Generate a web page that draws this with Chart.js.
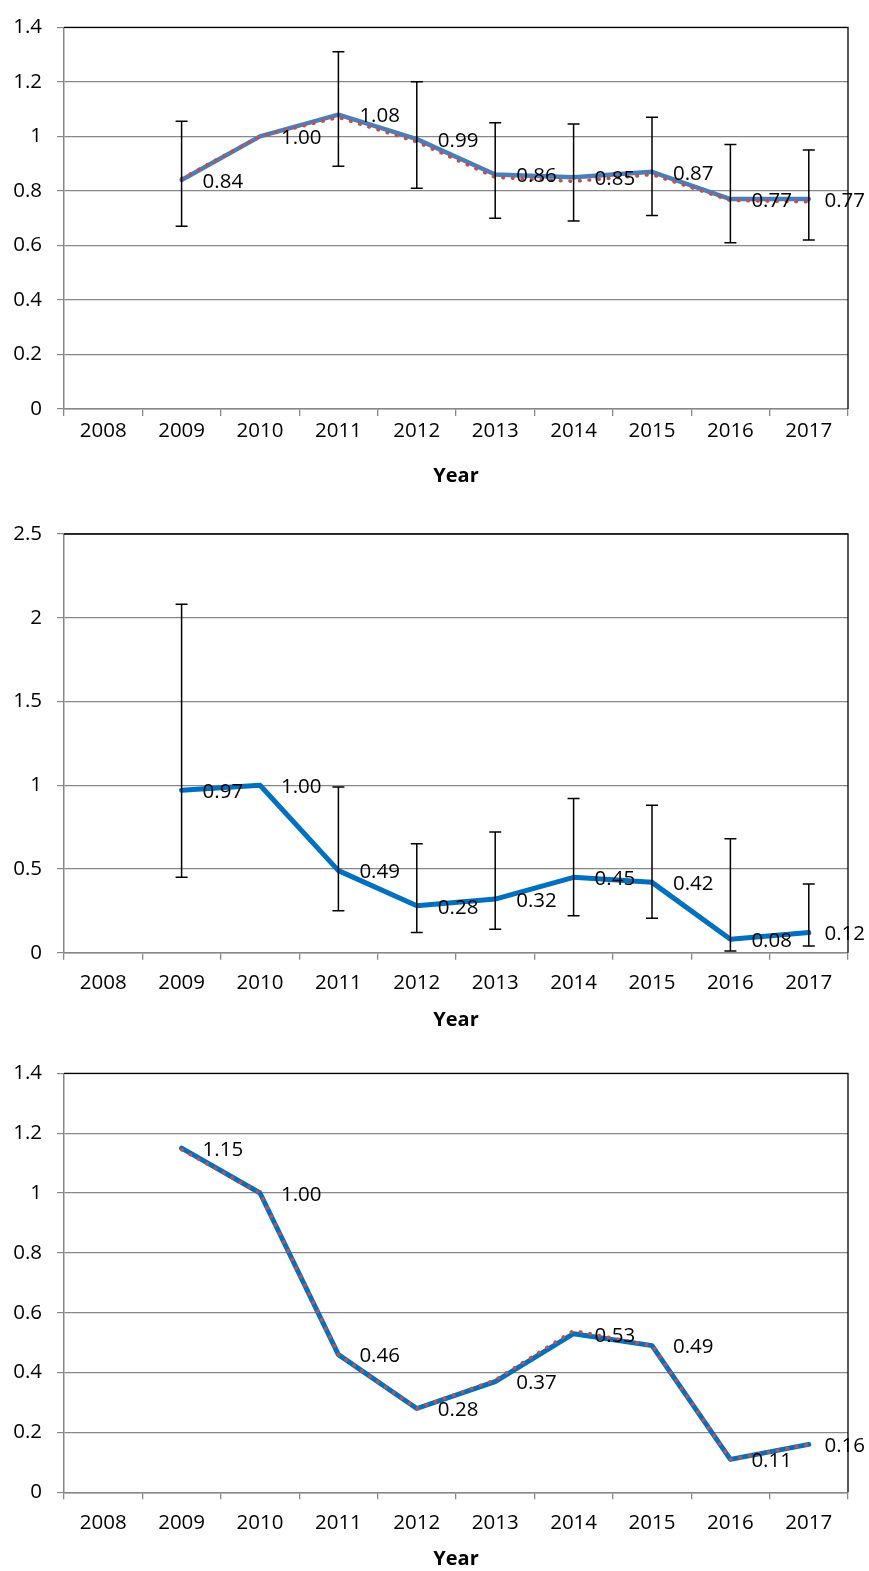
<!DOCTYPE html>
<html>
<head>
<meta charset="utf-8">
<script src="https://cdn.jsdelivr.net/npm/chart.js@4.4.1/dist/chart.umd.min.js"></script>
<style>
  html, body { margin: 0; padding: 0; background: #ffffff; }
  #wrap { position: relative; width: 869px; height: 1571px; overflow: hidden; }
  canvas { position: absolute; left: 0; }
</style>
</head>
<body>
<div id="wrap">
  <canvas id="panelA" width="869" height="500" style="top:0px"></canvas>
  <canvas id="panelB" width="869" height="535" style="top:500px"></canvas>
  <canvas id="panelC" width="869" height="536" style="top:1035px"></canvas>
</div>
<script>
// Categories shared by all three panels
const years = ['2008', '2009', '2010', '2011', '2012', '2013', '2014', '2015', '2016', '2017'];

// Panel A: ratio with fitted curve and confidence intervals
const ratioA = [null, 0.84, 1.00, 1.08, 0.99, 0.86, 0.85, 0.87, 0.77, 0.77];
const fitA   = [null, 0.845, 1.00, 1.07, 0.98, 0.85, 0.835, 0.86, 0.765, 0.76];
const lowA   = [null, 0.67, null, 0.89, 0.81, 0.70, 0.69, 0.71, 0.61, 0.62];
const highA  = [null, 1.055, null, 1.31, 1.20, 1.05, 1.045, 1.07, 0.97, 0.95];
const yTicksA = [0, 0.2, 0.4, 0.6, 0.8, 1, 1.2, 1.4];

// Panel B: ratio with confidence intervals
const ratioB = [null, 0.97, 1.00, 0.49, 0.28, 0.32, 0.45, 0.42, 0.08, 0.12];
const lowB   = [null, 0.45, null, 0.25, 0.12, 0.14, 0.22, 0.205, 0.01, 0.04];
const highB  = [null, 2.08, null, 0.99, 0.65, 0.72, 0.92, 0.88, 0.68, 0.41];
const yTicksB = [0, 0.5, 1, 1.5, 2, 2.5];

// Panel C: ratio with fitted curve
const ratioC = [null, 1.15, 1.00, 0.46, 0.28, 0.37, 0.53, 0.49, 0.11, 0.16];
const fitC   = [null, 1.145, 1.00, 0.46, 0.28, 0.375, 0.54, 0.49, 0.11, 0.16];
const yTicksC = [0, 0.2, 0.4, 0.6, 0.8, 1, 1.2, 1.4];

const FONT = "'Open Sans', 'DejaVu Sans', sans-serif";
const FONT_SIZE = 20.5;
const AXIS_GREY = '#878787';

// Black frame on the top and right of the plot area
const framePlugin = {
  id: 'plotFrame',
  beforeDatasetsDraw(chart) {
    const { ctx, chartArea: a } = chart;
    ctx.save();
    ctx.strokeStyle = '#000000';
    ctx.lineWidth = 1.3;
    ctx.beginPath();
    ctx.moveTo(a.left, a.top);
    ctx.lineTo(a.right, a.top);
    ctx.lineTo(a.right, a.bottom);
    ctx.stroke();
    ctx.restore();
  }
};

// Vertical error bars with caps, positioned by the chart's scales
function errorBars(low, high) {
  return {
    id: 'errorBars',
    afterDatasetsDraw(chart) {
      if (!low) return;
      const idx = chart.data.datasets.findIndex(d => d.label === 'Ratio');
      const meta = chart.getDatasetMeta(idx);
      const ys = chart.scales.y;
      const ctx = chart.ctx;
      ctx.save();
      ctx.strokeStyle = '#000000';
      ctx.lineWidth = 1.5;
      meta.data.forEach((pt, i) => {
        if (low[i] == null || high[i] == null) return;
        const x = pt.x;
        const yHi = ys.getPixelForValue(high[i]);
        const yLo = ys.getPixelForValue(low[i]);
        ctx.beginPath();
        ctx.moveTo(x, yHi); ctx.lineTo(x, yLo);
        ctx.moveTo(x - 6, yHi); ctx.lineTo(x + 6, yHi);
        ctx.moveTo(x - 6, yLo); ctx.lineTo(x + 6, yLo);
        ctx.stroke();
      });
      ctx.restore();
    }
  };
}

// Value labels to the right of each ratio point
const valueLabels = {
  id: 'valueLabels',
  afterDatasetsDraw(chart) {
    const idx = chart.data.datasets.findIndex(d => d.label === 'Ratio');
    const ds = chart.data.datasets[idx];
    const meta = chart.getDatasetMeta(idx);
    const ctx = chart.ctx;
    ctx.save();
    ctx.font = FONT_SIZE + 'px ' + FONT;
    ctx.fillStyle = '#000000';
    ctx.textAlign = 'left';
    ctx.textBaseline = 'middle';
    meta.data.forEach((pt, i) => {
      const v = ds.data[i];
      if (v == null) return;
      const txt = v.toFixed(2);
      const w = ctx.measureText(txt).width;
      let x = pt.x + 21;
      if (x + w > chart.width - 4) x = chart.width - 4 - w;
      ctx.fillText(txt, x, pt.y + 2);
    });
    ctx.restore();
  }
};

function makeChart(id, opts) {
  const datasets = [];
  if (opts.fit) {
    datasets.push({
      label: 'Fit',
      data: opts.fit,
      borderColor: '#C0504D',
      borderWidth: 3.6,
      borderDash: [0.6, 9],
      borderCapStyle: 'round',
      borderJoinStyle: 'round',
      pointRadius: 0,
      tension: 0,
      fill: false,
      order: 0
    });
  }
  datasets.push({
    label: 'Ratio',
    data: opts.ratio,
    borderColor: opts.color,
    borderWidth: opts.lineWidth,
    borderCapStyle: 'round',
    borderJoinStyle: 'round',
    pointRadius: 0,
    tension: 0,
    fill: false,
    order: 1
  });

  const ticks = opts.yTicks;
  return new Chart(document.getElementById(id), {
    type: 'line',
    data: { labels: years, datasets },
    options: {
      responsive: false,
      animation: false,
      events: [],
      layout: { padding: { top: opts.padTop, right: 21, bottom: 0, left: 0 } },
      plugins: { legend: { display: false }, tooltip: { enabled: false }, title: { display: false } },
      scales: {
        x: {
          type: 'category',
          offset: true,
          grid: { display: true, drawOnChartArea: false, drawTicks: true, tickLength: 7, offset: true, color: AXIS_GREY, lineWidth: 1.3 },
          border: { display: true, color: AXIS_GREY, width: 1.5 },
          ticks: { color: '#000000', font: { family: FONT, size: FONT_SIZE }, padding: opts.tickPad, maxRotation: 0, autoSkip: false },
          title: { display: true, text: 'Year', color: '#000000', font: { family: FONT, size: 20, weight: 'bold' }, padding: { top: 0, bottom: opts.titlePad } },
          afterFit: s => { s.height = opts.xHeight; }
        },
        y: {
          min: ticks[0],
          max: ticks[ticks.length - 1],
          ticks: {
            stepSize: ticks[1] - ticks[0],
            color: '#000000',
            font: { family: FONT, size: FONT_SIZE },
            padding: 15,
            callback: v => String(+v.toFixed(2))
          },
          afterBuildTicks: s => { s.ticks = ticks.map(v => ({ value: v })); },
          grid: { color: AXIS_GREY, lineWidth: 1.2, tickLength: 7 },
          border: { display: true, color: AXIS_GREY, width: 1.5 },
          afterFit: s => { s.width = 64; }
        }
      }
    },
    plugins: [framePlugin, errorBars(opts.low, opts.high), valueLabels]
  });
}

makeChart('panelA', {
  ratio: ratioA, fit: fitA, low: lowA, high: highA, yTicks: yTicksA,
  color: '#4A7EBB', lineWidth: 4.5,
  padTop: 15, xHeight: 91, tickPad: 3, titlePad: 12
});
makeChart('panelB', {
  ratio: ratioB, fit: null, low: lowB, high: highB, yTicks: yTicksB,
  color: '#0070C0', lineWidth: 5,
  padTop: 34, xHeight: 82.3, tickPad: 11.6, titlePad: 3
});
makeChart('panelC', {
  ratio: ratioC, fit: fitC, low: null, high: null, yTicks: yTicksC,
  color: '#0070C0', lineWidth: 5,
  padTop: 38.3, xHeight: 78.7, tickPad: 11.2, titlePad: 0
});
</script>
</body>
</html>
